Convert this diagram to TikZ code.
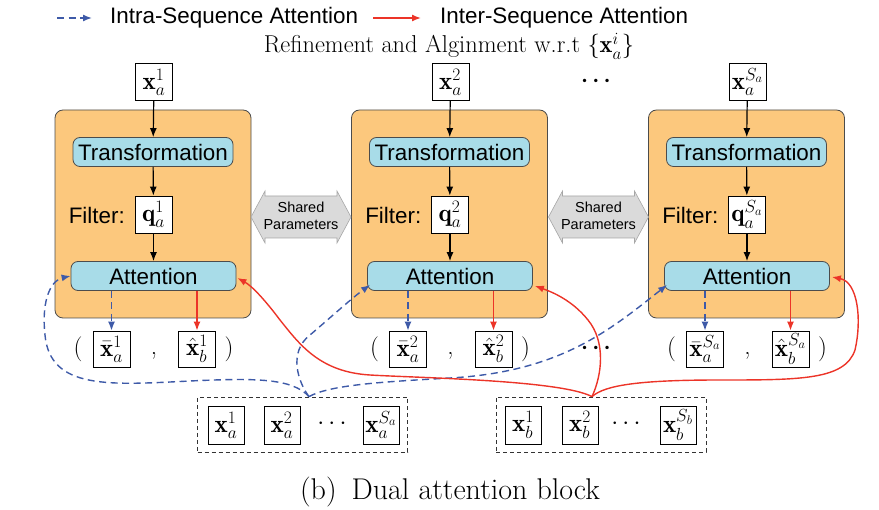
\documentclass[tikz,border=0pt]{standalone}
\usepackage{fix-cm}
\usepackage{amsmath}
\usepackage{fontspec}
\newfontfamily\arialf{Liberation Sans}
\usetikzlibrary{arrows.meta,calc}
\definecolor{blkfill}{RGB}{252,200,125}
\definecolor{attfill}{RGB}{168,220,232}
\definecolor{intra}{RGB}{62,90,168}
\definecolor{inter}{RGB}{236,52,40}
\definecolor{shpfill}{RGB}{218,218,218}
\newcommand\mfont{\fontsize{25}{29}\selectfont}
\newcommand\sfbig{\arialf\fontsize{22.4}{26}\selectfont}
\tikzset{
  mbox/.style={draw=black, fill=white, line width=0.8pt, minimum width=37pt, minimum height=37pt, inner sep=0pt, font=\mfont},
  blockbox/.style={draw=black!70, fill=blkfill, rounded corners=8pt, line width=0.8pt, minimum width=196pt, minimum height=208pt},
  procbox/.style={draw=black!70, fill=attfill, rounded corners=7pt, line width=0.8pt, minimum height=29pt, inner sep=0pt, font=\sfbig},
  flow/.style={draw=black, line width=1.2pt, -{Latex[length=9pt,width=7pt]}},
  intraarr/.style={draw=intra, line width=1.4pt, dash pattern=on 7pt off 4.5pt, -{Latex[length=9pt,width=7pt]}},
  interarr/.style={draw=inter, line width=1.4pt, -{Latex[length=9pt,width=7pt]}},
  grpbox/.style={draw=black!80, dash pattern=on 4pt off 3pt, line width=0.8pt, minimum width=210pt, minimum height=55pt},
  sbox/.style={draw=black, fill=white, line width=0.8pt, minimum width=36pt, minimum height=38pt, inner sep=0pt, font=\mfont},
  plain/.style={inner sep=0pt, font=\mfont},
  sptext/.style={align=center, inner sep=0pt, font=\arialf\fontsize{14.5}{17.5}\selectfont}
}
\begin{document}
\begin{tikzpicture}[x=1pt,y=-1pt]
\useasboundingbox (0,0) rectangle (879,510);
% legend
\coordinate (l1a) at (57,18); \coordinate (l1b) at (92,18);
\draw[intraarr] (l1a) -- (l1b);
\node[anchor=west, inner sep=0pt, font=\sfbig] (lt1) at (110,18) {Intra-Sequence Attention};
\coordinate (l2a) at (373,18); \coordinate (l2b) at (421,18);
\draw[interarr] (l2a) -- (l2b);
\node[anchor=west, inner sep=0pt, font=\sfbig] (lt2) at (440,18) {Inter-Sequence Attention};
\node[inner sep=0pt, font=\fontsize{24.4}{28}\selectfont] (refine) at (449,46) {Refinement and Alginment w.r.t $\{\mathbf{x}_a^i\}$};
% blocks
\foreach \i/\cx/\s in {1/153/1, 2/449.5/2, 3/746.5/S_a}{
  \node[blockbox] (blk\i) at (\cx,214) {};
  \node[mbox] (in\i) at (\cx+1,82) {$\mathbf{x}_a^{\s}$};
  \node[procbox, minimum width=160pt] (tr\i) at (\cx,152) {Transformation};
  \node[mbox] (q\i) at (\cx+0.5,214.5) {$\mathbf{q}_a^{\s}$};
  \node[anchor=east, inner sep=0pt, font=\sfbig] (fl\i) at (\cx-28,215) {Filter:};
  \node[procbox, minimum width=165pt] (att\i) at (\cx+0.5,276) {Attention};
  \node[mbox, minimum height=36pt] (bar\i) at (\cx-41.5,349) {$\bar{\mathbf{x}}_a^{\s}$};
  \node[mbox, minimum height=36pt] (hat\i) at (\cx+44,349) {$\hat{\mathbf{x}}_b^{\s}$};
  \node[plain, font=\fontsize{25}{29}\selectfont] (lp\i) at (\cx-75,349) {(};
  \node[plain, font=\fontsize{25}{29}\selectfont] (cm\i) at (\cx+1,356) {,};
  \node[plain, font=\fontsize{25}{29}\selectfont] (rp\i) at (\cx+76,349) {)};
  \draw[flow] (in\i) -- (tr\i);
  \draw[flow] (tr\i) -- (q\i);
  \draw[flow] (q\i) -- (att\i);
  \draw[intraarr] (att\i.south -| bar\i) -- (bar\i);
  \draw[interarr] (att\i.south -| hat\i) -- (hat\i);
}
% dots
\node[plain, font=\fontsize{22}{26}\selectfont\boldmath] (dtop) at (598,81) {$\cdots$};
\node[plain, font=\fontsize{22}{26}\selectfont\boldmath] (dmid) at (598,348) {$\cdots$};
% shared parameters
\foreach \c/\n in {301/sp1, 598.5/sp2}{
  \filldraw[fill=shpfill, draw=black!35, line width=0.6pt]
    (\c-50,217) -- (\c-36,191) -- (\c-36,196) -- (\c+36,196) -- (\c+36,191) -- (\c+50,217)
    -- (\c+36,243) -- (\c+36,238) -- (\c-36,238) -- (\c-36,243) -- cycle;
  \node[sptext] (\n) at (\c,216) {Shared\\Parameters};
}
% groups
\node[grpbox] (grpA) at (302.5,424.5) {};
\node[grpbox] (grpB) at (601,424.5) {};
\node[sbox] (xa1) at (226,425) {$\mathbf{x}_a^1$};
\node[sbox] (xa2) at (282,425) {$\mathbf{x}_a^2$};
\node[plain] (dA) at (334,424) {$\cdots$};
\node[sbox] (xaS) at (381,425) {$\mathbf{x}_a^{S_a}$};
\node[sbox] (xb1) at (523,425) {$\mathbf{x}_b^1$};
\node[sbox] (xb2) at (580,425) {$\mathbf{x}_b^2$};
\node[plain] (dB) at (628,424) {$\cdots$};
\node[sbox] (xbS) at (678,425) {$\mathbf{x}_b^{S_b}$};
\coordinate (ga) at ($(grpA.north)+(6.5,0)$);
\coordinate (gb) at ($(grpB.north)+(-9,0)$);
% intra-sequence connectors
\draw[intraarr] (ga) .. controls (292,378) and (255,378) .. (190,381)
  .. controls (110,385) and (50,390) .. (45,335)
  .. controls (41,298) and (52,280) .. (att1.west);
\draw[intraarr] (ga) .. controls (298,382) and (288,352) .. (310,335)
  .. controls (330,318) and (352,298) .. ($(att2.south west)+(3,-6)$);
\draw[intraarr] (ga) .. controls (330,385) and (380,382) .. (450,378)
  .. controls (560,372) and (610,330) .. ($(att3.south west)+(3,-6)$);
% inter-sequence connectors
\draw[interarr] (gb) .. controls (560,380) and (420,378) .. (370,375)
  .. controls (320,372) and (300,345) .. (280,320)
  .. controls (265,300) and (252,286) .. ($(att1.east)+(1,2)$);
\draw[interarr] (gb) .. controls (602,375) and (606,342) .. (588,320)
  .. controls (572,300) and (552,292) .. ($(att2.south east)+(2,-5)$);
\draw[interarr] (gb) .. controls (605,385) and (640,380) .. (720,380)
  .. controls (800,380) and (845,380) .. (855,350)
  .. controls (862,320) and (858,282) .. ($(att3.east)+(2,1)$);
% caption
\node[inner sep=0pt, font=\fontsize{30}{34}\selectfont] (cap) at (450,492) {(b)\hspace{0.5em}Dual attention block};
\end{tikzpicture}
\end{document}
